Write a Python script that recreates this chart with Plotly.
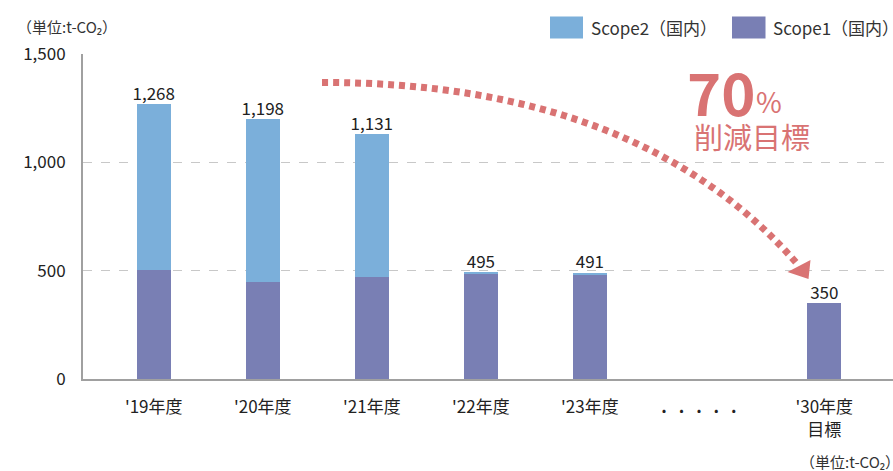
import plotly.graph_objects as go

# ---- data ----
categories = ["'19年度", "'20年度", "'21年度", "'22年度", "'23年度", "'30年度<br>目標"]
scope1 = [505, 448, 471, 488, 480, 350]
scope2 = [763, 750, 660, 7, 11, 0]
totals = [1268, 1198, 1131, 495, 491, 350]
total_labels = ["1,268", "1,198", "1,131", "495", "491", "350"]
gap_label = "<b>" + "\u2002\u2009".join(["."] * 5) + "</b>"

# ---- layout helpers (pixel geometry of the page) ----
W, H = 893, 471
L, R, T, B = 83, 0, 53.5, 91.6
PH = H - T - B
x_pos = [0, 1, 2, 3, 4, 6.15]
gap_pos = 5
X0, X1 = -0.649, 6.78
Y0, Y1 = 0, 1500
FONT = "Noto Sans CJK JP, Noto Sans, sans-serif"

def px(xp):
    return (xp - L) / (W - L - R)

def py(yp):
    return (H - B - yp) / PH

def dx(xp):
    return X0 + (xp - L) / (W - L - R) * (X1 - X0)

def dy(yp):
    return Y0 + (H - B - yp) / PH * (Y1 - Y0)

C1 = "#797fb4"
C2 = "#7bafda"
RED = "#d97373"

fig = go.Figure()
fig.add_trace(go.Bar(x=x_pos, y=scope1, name="Scope1（国内）", marker=dict(color=C1, line=dict(width=0)), width=0.312))
fig.add_trace(go.Bar(x=x_pos, y=scope2, name="Scope2（国内）", marker=dict(color=C2, line=dict(width=0)), width=0.312))
fig.add_trace(go.Scatter(x=x_pos, y=totals, text=total_labels, mode="text", textposition="top center",
                         textfont=dict(size=17, color="#222", family=FONT), cliponaxis=False, showlegend=False))

shapes = []
# dotted curved arrow
p0 = (dx(322), dy(82))
p1 = (dx(641), dy(82))
p2 = (dx(799), dy(266))
shapes.append(dict(type="path", xref="x", yref="y",
                   path=f"M {p0[0]},{p0[1]} Q {p1[0]},{p1[1]} {p2[0]},{p2[1]}",
                   line=dict(color=RED, width=7, dash="6px,5px")))
a = (dx(787.5), dy(272)); b = (dx(810.5), dy(260)); c = (dx(808.5), dy(279))
shapes.append(dict(type="path", xref="x", yref="y",
                   path=f"M {a[0]},{a[1]} L {b[0]},{b[1]} L {c[0]},{c[1]} Z",
                   fillcolor=RED, line=dict(width=0)))
# manual legend squares
shapes.append(dict(type="rect", xref="paper", yref="paper", x0=px(550), x1=px(583), y0=py(38), y1=py(16),
                   fillcolor=C2, line=dict(width=0)))
shapes.append(dict(type="rect", xref="paper", yref="paper", x0=px(732), x1=px(765.5), y0=py(38), y1=py(16),
                   fillcolor=C1, line=dict(width=0)))

annotations = [
    dict(x=px(589), y=py(27), text="Scope2（国内）", xanchor="left", yanchor="middle"),
    dict(x=px(771), y=py(27), text="Scope1（国内）", xanchor="left", yanchor="middle"),
    dict(x=px(15), y=py(26), text="（単位:t-CO₂）", xanchor="left", yanchor="middle", font=dict(size=15, color="#333", family=FONT)),
    dict(x=px(902), y=py(462), text="（単位:t-CO₂）", xanchor="right", yanchor="middle", font=dict(size=15, color="#333", family=FONT)),
    dict(x=px(721), y=py(91), text="<b>70</b>", xanchor="center", yanchor="middle", font=dict(size=58, color=RED, family=FONT)),
    dict(x=px(769), y=py(101), text="%", xanchor="center", yanchor="middle", font=dict(size=28, color=RED, family=FONT)),
    dict(x=px(752), y=py(136), text="削減目標", xanchor="center", yanchor="middle", font=dict(size=29, color=RED, family=FONT)),
]
for an in annotations:
    an.setdefault("font", dict(size=17, color="#333", family=FONT))
    an.update(xref="paper", yref="paper", showarrow=False)

fig.update_layout(
    width=W, height=H,
    margin=dict(l=L, r=R, t=T, b=B, pad=0),
    barmode="stack",
    showlegend=False,
    plot_bgcolor="white", paper_bgcolor="white",
    font=dict(family=FONT, size=17, color="#333"),
    shapes=shapes,
    annotations=annotations,
    xaxis=dict(range=[X0, X1], tickmode="array",
               tickvals=x_pos[:5] + [gap_pos, x_pos[5]],
               ticktext=categories[:5] + [gap_label, categories[5]],
               showline=True, linecolor="#a0a0a0", linewidth=2, showgrid=False, zeroline=False,
               ticks="", ticklabelstandoff=12, tickfont=dict(size=17, color="#222")),
    yaxis=dict(range=[Y0, Y1], tickvals=[0, 500, 1000, 1500], tickformat=",",
               showline=True, linecolor="#a0a0a0", linewidth=2, zeroline=False,
               showgrid=True, gridcolor="#c8c8c8", griddash="dash", gridwidth=1,
               ticks="", ticklabelstandoff=12, tickfont=dict(size=17, color="#222")),
)

fig.write_html("out.html", config={"displayModeBar": False},
               post_script="document.body.style.margin='0';document.body.style.overflow='hidden';")
